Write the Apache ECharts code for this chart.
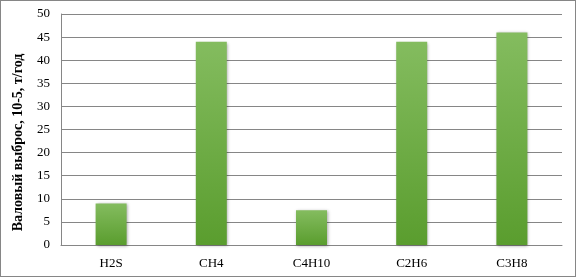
<!DOCTYPE html>
<html><head><meta charset="utf-8">
<script src="https://cdn.jsdelivr.net/npm/echarts@6/dist/echarts.min.js"></script>
<style>html,body{margin:0;padding:0;background:#fff}#c{width:576px;height:277px;box-sizing:border-box;border:1px solid #868686}</style>
</head><body><div id="c"></div>
<script>
const categories = ['H2S','CH4','C4H10','C2H6','C3H8'];
const values = [9, 44, 7.5, 44, 46];
const yAxisName = 'Валовый выброс, 10-5, т/год';

const chart = echarts.init(document.getElementById('c'), null, {renderer:'canvas'});
chart.setOption({
  animation:false,
  grid:{left:60,right:13,top:13,bottom:31},
  xAxis:{type:'category',data:categories,
    axisLine:{lineStyle:{color:'#868686',width:1}},
    axisTick:{show:false},
    axisLabel:{color:'#000',fontFamily:'Liberation Serif',fontSize:13,margin:12}},
  yAxis:{type:'value',min:0,max:50,interval:5,
    name:yAxisName,nameLocation:'middle',nameGap:36,nameRotate:90,
    nameTextStyle:{color:'#000',fontFamily:'Liberation Serif',fontSize:14,fontWeight:'bold',padding:[0,26,0,0]},
    axisLine:{show:true,lineStyle:{color:'#868686'}},
    axisTick:{show:false},
    splitLine:{lineStyle:{color:'#868686'}},
    axisLabel:{color:'#000',fontFamily:'Liberation Serif',fontSize:13,margin:11}},
  series:[{type:'bar',data:values,barWidth:31,
    itemStyle:{color:new echarts.graphic.LinearGradient(0,0,0,1,[{offset:0,color:'#84BC5F'},{offset:1,color:'#5A9D2E'}]),
      shadowColor:'rgba(0,0,0,0.35)',shadowBlur:3,shadowOffsetX:1,shadowOffsetY:1}}]
});
</script></body></html>
